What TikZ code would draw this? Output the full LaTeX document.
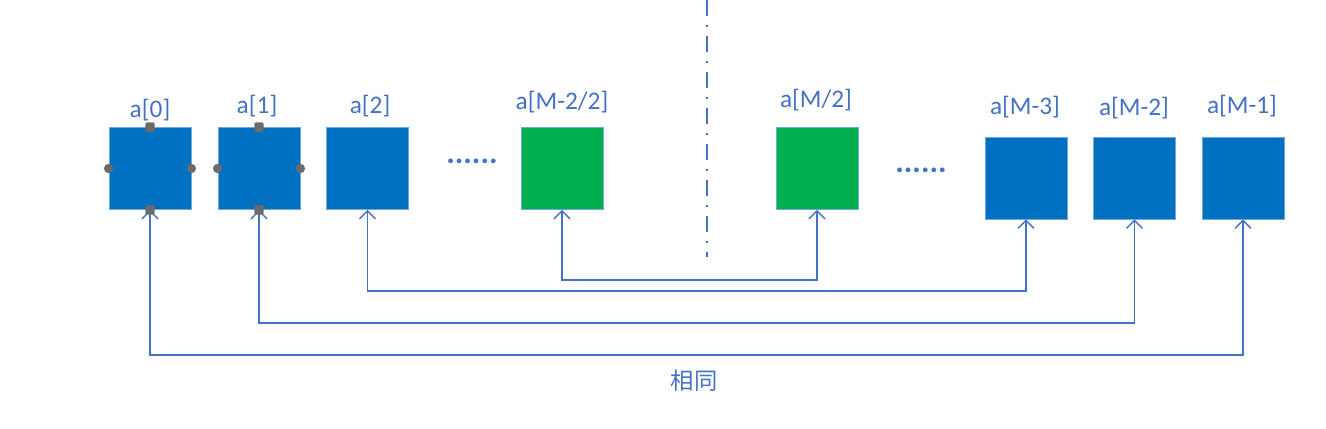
\documentclass[tikz,border=0pt]{standalone}
\usepackage{fontspec}
\setmainfont{Carlito}
\newfontfamily\cjk{Noto Sans CJK SC}
\usetikzlibrary{arrows.meta}
\definecolor{cellblue}{HTML}{0070C0}
\definecolor{cellgreen}{HTML}{00B050}
\definecolor{cellline}{HTML}{6FA8DC}
\definecolor{lineblue}{HTML}{4472C4}
\definecolor{gripgrey}{HTML}{6B6B6B}
\tikzset{
  cell/.style={draw=cellline,fill=cellblue,line width=0.6pt,minimum size=61.5pt,inner sep=0pt},
  midcell/.style={cell,fill=cellgreen},
  lbl/.style={text=lineblue,font=\fontsize{19}{21}\selectfont},
  gap/.style={text=lineblue,font=\bfseries\fontsize{24}{26}\selectfont,inner sep=0pt},
  link/.style={draw=lineblue,line width=1.1pt,{Straight Barb[length=6pt,width=12pt]}-{Straight Barb[length=6pt,width=12pt]}},
  gripsq/.style={fill=gripgrey,minimum size=7pt,inner sep=0pt,rounded corners=1pt},
  gripdot/.style={circle,fill=gripgrey,minimum size=7pt,inner sep=0pt}
}
\begin{document}
\begin{tikzpicture}[x=0.75pt,y=-0.75pt]
  \useasboundingbox (0,0) rectangle (1326,428);
  \draw[lineblue,line width=1.1pt,dash pattern=on 12pt off 7pt on 1pt off 7pt] (707,0) -- (707,257);

  \node[cell] (a0) at (150,168.5) {};
  \node[cell] (a1) at (259,168.5) {};
  \node[cell] (a2) at (367.5,168.5) {};
  \node[midcell] (ml) at (562,168.5) {};
  \node[midcell] (mr) at (817,168.5) {};
  \node[cell] (r3) at (1026,178) {};
  \node[cell] (r2) at (1134.5,178) {};
  \node[cell] (r1) at (1243,178) {};

  \node[lbl] (t0) at (150,110) {a[0]};
  \node[lbl] (t1) at (257,106) {a[1]};
  \node[lbl] (t2) at (370,106) {a[2]};
  \node[lbl] (tl) at (562,102) {a[M-2/2]};
  \node[lbl] (tr) at (816,100) {a[M/2]};
  \node[lbl] (t3) at (1025,107) {a[M-3]};
  \node[lbl] (t4) at (1134,108) {a[M-2]};
  \node[lbl] (t5) at (1242,106) {a[M-1]};

  \node[gap] (g1) at (472,161) {......};
  \node[gap] (g2) at (921,170) {......};

  \draw[link] (ml.south) -- (ml.south |- 0,280) -| (mr.south);
  \draw[link] (a2.south) -- (a2.south |- 0,291) -| (r3.south);
  \draw[link] (a1.south) -- (a1.south |- 0,323) -| (r2.south);
  \draw[link] (a0.south) -- (a0.south |- 0,355) -| (r1.south);

  \foreach \c in {a0,a1} {
    \node[gripsq] at (\c.north) {};
    \node[gripsq] at (\c.south) {};
    \node[gripdot] at (\c.west) {};
    \node[gripdot] at (\c.east) {};
  }

  \node[text=lineblue,font=\cjk\fontsize{17.5}{20}\selectfont] (same) at (694,381) {相同};
\end{tikzpicture}
\end{document}
